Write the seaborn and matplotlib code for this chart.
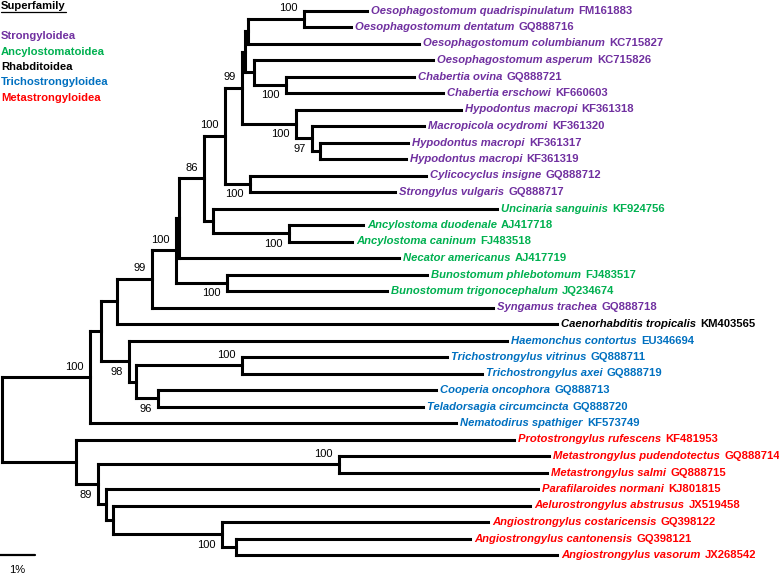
import matplotlib
matplotlib.use("Agg")
import matplotlib.pyplot as plt
from matplotlib.lines import Line2D
import numpy as np
import pandas as pd
import seaborn as sns

# ---------------- data ----------------
species = [
    "Oesophagostomum quadrispinulatum", "Oesophagostomum dentatum",
    "Oesophagostomum columbianum", "Oesophagostomum asperum",
    "Chabertia ovina", "Chabertia erschowi", "Hypodontus macropi",
    "Macropicola ocydromi", "Hypodontus macropi", "Hypodontus macropi",
    "Cylicocyclus insigne", "Strongylus vulgaris", "Uncinaria sanguinis",
    "Ancylostoma duodenale", "Ancylostoma caninum", "Necator americanus",
    "Bunostomum phlebotomum", "Bunostomum trigonocephalum",
    "Syngamus trachea", "Caenorhabditis tropicalis", "Haemonchus contortus",
    "Trichostrongylus vitrinus", "Trichostrongylus axei", "Cooperia oncophora",
    "Teladorsagia circumcincta", "Nematodirus spathiger",
    "Protostrongylus rufescens", "Metastrongylus pudendotectus",
    "Metastrongylus salmi", "Parafilaroides normani",
    "Aelurostrongylus abstrusus", "Angiostrongylus costaricensis",
    "Angiostrongylus cantonensis", "Angiostrongylus vasorum",
]
accessions = [
    "FM161883", "GQ888716", "KC715827", "KC715826", "GQ888721", "KF660603",
    "KF361318", "KF361320", "KF361317", "KF361319", "GQ888712", "GQ888717",
    "KF924756", "AJ417718", "FJ483518", "AJ417719", "FJ483517", "JQ234674",
    "GQ888718", "KM403565", "EU346694", "GQ888711", "GQ888719", "GQ888713",
    "GQ888720", "KF573749", "KF481953", "GQ888714", "GQ888715", "KJ801815",
    "JX519458", "GQ398122", "GQ398121", "JX268542",
]
tip_superfamily = (["Strongyloidea"] * 12 + ["Ancylostomatoidea"] * 6 +
                   ["Strongyloidea", "Rhabditoidea"] +
                   ["Trichostrongyloidea"] * 6 + ["Metastrongyloidea"] * 8)
# distance from root (% divergence) of each tip
tip_depth = [10.43, 9.97, 11.91, 12.31, 11.77, 12.60, 13.11, 12.06, 11.60,
             11.54, 12.11, 11.23, 14.14, 10.31, 10.00, 11.34, 12.14, 11.00,
             14.03, 15.86, 14.43, 12.71, 13.71, 12.40, 12.03, 12.97, 14.63,
             15.63, 15.57, 15.31, 15.09, 13.89, 13.37, 15.86]

# internal nodes (post-order): name, children, depth, bootstrap, label side
node_names = ["A", "B", "E", "D", "C", "H", "G", "F", "I", "J", "K", "O", "N",
              "L", "P", "R", "Q", "S", "T", "X", "Y", "W", "V", "U", "Z",
              "CC", "GG", "FF", "EE", "DD", "BB", "AA", "root"]
node_children = [(0, 1), ("A", 2), (4, 5), (3, "E"), ("B", "D"), (8, 9),
                 (7, "H"), (6, "G"), ("C", "F"), (10, 11), ("I", "J"),
                 (13, 14), (12, "O"), ("K", "N"), ("L", 15), (16, 17),
                 ("P", "R"), ("Q", 18), ("S", 19), (21, 22), (23, 24),
                 ("X", "Y"), (20, "W"), ("T", "V"), ("U", 25), (27, 28),
                 (32, 33), (31, "GG"), (30, "FF"), (29, "EE"), ("CC", "DD"),
                 (26, "BB"), ("Z", "AA")]
node_depth = [8.63, 7.03, 8.11, 7.20, 6.94, 9.09, 8.86, 8.40, 6.86, 7.09,
              6.37, 8.20, 6.03, 5.77, 5.06, 6.43, 4.97, 4.29, 3.29, 6.86,
              4.46, 3.83, 3.63, 2.83, 2.51, 9.63, 6.69, 6.29, 3.17, 2.97,
              2.74, 2.11, 0.00]
node_support = [100, None, 100, None, None, None, 97, 100, 99, 100, 100, 100,
                None, 86, None, 100, 100, 99, None, 100, 96, None, 98, None,
                100, 100, None, 100, None, None, 89, None, None]
node_label_side = ["above", None, "below", None, None, None, "below", "below",
                   "above", "below", "above", "below", None, "above", None,
                   "below", "above", "above", None, "above", "below", None,
                   "below", None, "above", "above", None, "below", None, None,
                   "below", None, None]

superfamilies = ["Strongyloidea", "Ancylostomatoidea", "Rhabditoidea",
                 "Trichostrongyloidea", "Metastrongyloidea"]
superfamily_colors = ["#7030A0", "#00B050", "#000000", "#0070C0", "#FF0000"]
scale_bar_length = 1.0  # %
scale_label = "1%"

# ---------------- layout ----------------
sns.set_theme(style="white")
plt.rcParams["font.family"] = ["Liberation Sans", "DejaVu Sans"]

W, H = 779, 575
fig = plt.figure(figsize=(W / 100, H / 100), dpi=100)
ax = fig.add_axes([0, 0, 1, 1])

px_per_unit_x = 35.0     # one % of divergence
row_px = 16.5
x0_px, y0_px = 2.0, 10.5

color_of = dict(zip(superfamilies, superfamily_colors))

# positions
pos = {}
for i, d in enumerate(tip_depth):
    pos[i] = (d, float(i))
for name, ch, d in zip(node_names, node_children, node_depth):
    ys = [pos[c][1] for c in ch]
    pos[name] = (d, float(np.mean(ys)))

# segments
rows = []
seg = 0
for name, ch in zip(node_names, node_children):
    nx, ny = pos[name]
    ys = [pos[c][1] for c in ch]
    rows += [(seg, nx, min(ys)), (seg, nx, max(ys))]
    seg += 1
    for c in ch:
        cx, cy = pos[c]
        rows += [(seg, nx, cy), (seg, cx, cy)]
        seg += 1
seg_df = pd.DataFrame(rows, columns=["seg", "x", "y"])

sns.lineplot(data=seg_df, x="x", y="y", units="seg", estimator=None,
             sort=False, color="black", linewidth=2.2, legend=False, ax=ax,
             solid_capstyle="projecting")

# scale bar
sb_x0 = -x0_px / px_per_unit_x
sb_y = len(species) - 1
sb_df = pd.DataFrame({"x": [sb_x0, sb_x0 + scale_bar_length],
                      "y": [sb_y, sb_y], "seg": [0, 0]})
sns.lineplot(data=sb_df, x="x", y="y", units="seg", estimator=None,
             sort=False, color="black", linewidth=1.6, legend=False, ax=ax)
ax.annotate(scale_label, xy=(sb_x0 + scale_bar_length / 2, sb_y),
            xytext=(0, -10.5), textcoords="offset points", ha="center",
            va="center", fontsize=8, color="black")

# tip labels
for i, (sp, acc, sf) in enumerate(zip(species, accessions, tip_superfamily)):
    c = color_of[sf]
    x, y = pos[i]
    t = ax.annotate(sp, xy=(x, y), xytext=(3.0, 0), textcoords="offset points",
                    ha="left", va="center", fontsize=8.1, fontweight="bold",
                    fontstyle="italic", color=c)
    ax.annotate(acc, xy=(1, y), xycoords=(t, "data"), xytext=(3.0, 0),
                textcoords="offset points", ha="left", va="center",
                fontsize=8.1, fontweight="bold", color=c)

# bootstrap labels
for name, bs, side in zip(node_names, node_support, node_label_side):
    if bs is None:
        continue
    x, y = pos[name]
    dy = 7.6 if side == "above" else -7.6
    ax.annotate(str(bs), xy=(x, y), xytext=(-4.6, dy),
                textcoords="offset points", ha="right", va="center",
                fontsize=8, color="black")

# legend
title = ax.text(1 / W, 1 - 6 / H, "Superfamily", transform=ax.transAxes,
                ha="left", va="center", fontsize=8.1, fontweight="bold",
                color="black")
fig.canvas.draw()
bb = title.get_window_extent().transformed(fig.transFigure.inverted())
fig.add_artist(Line2D([bb.x0, bb.x1], [1 - 11.5 / H, 1 - 11.5 / H],
                      transform=fig.transFigure, color="black", lw=0.9))
legend_y_px = [36, 52, 67, 82, 98]
for sf, c, ypx in zip(superfamilies, superfamily_colors, legend_y_px):
    ax.text(1 / W, 1 - ypx / H, sf, transform=ax.transAxes, ha="left",
            va="center", fontsize=8.1, fontweight="bold", color=c)

ax.set_xlim(-x0_px / px_per_unit_x, (W - x0_px) / px_per_unit_x)
ax.set_ylim((H - y0_px) / row_px, -y0_px / row_px)
ax.set_axis_off()

fig.savefig("out.png", dpi=100, facecolor="white")
